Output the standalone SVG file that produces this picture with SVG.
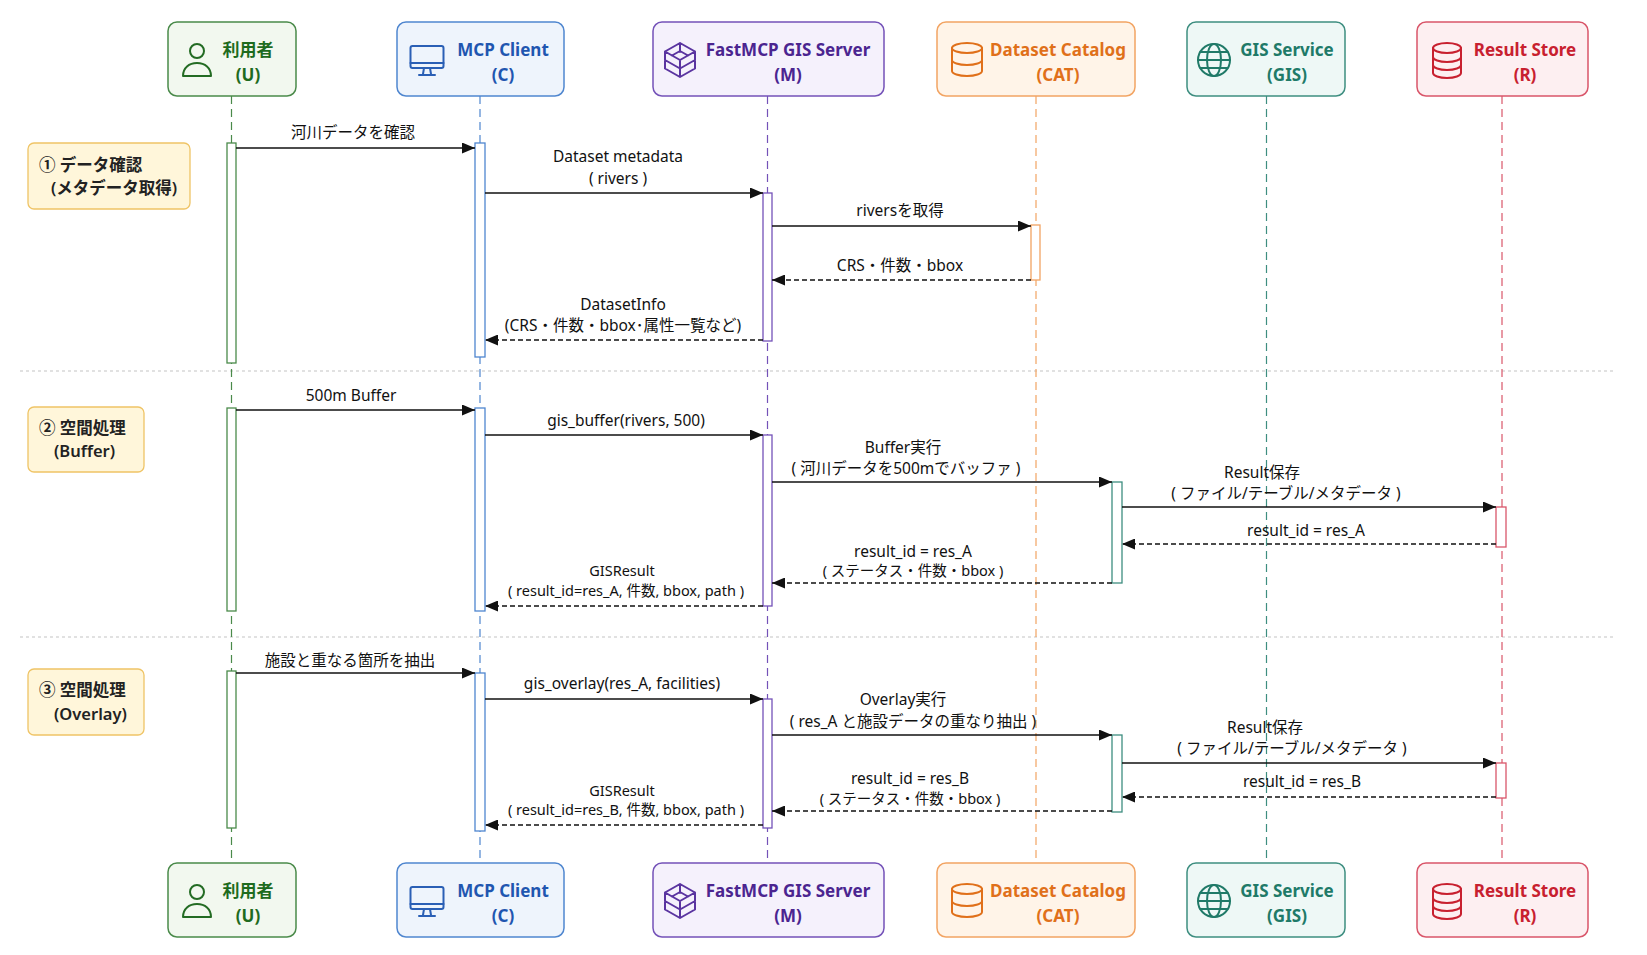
<svg xmlns="http://www.w3.org/2000/svg" xmlns:xlink="http://www.w3.org/1999/xlink" width="1647" height="955" viewBox="0 0 1647 955">
<style>
text{font-family:"Noto Sans","Noto Sans CJK JP",sans-serif;}
.title{font-size:17px;font-weight:700;text-anchor:middle;}
.lbl{font-size:15.5px;fill:#111;text-anchor:middle;}
.sm{font-size:14.5px;fill:#111;text-anchor:middle;}
.sec{font-size:16.5px;font-weight:600;fill:#222;}
.msg{stroke:#111;stroke-width:1.6;fill:none;marker-end:url(#ah);}
.ret{stroke:#111;stroke-width:1.6;fill:none;stroke-dasharray:5 3;marker-end:url(#ah);}
.life{stroke-width:1.2;stroke-dasharray:8 5;fill:none;}
.sep{stroke:#c4c4c4;stroke-width:1.2;stroke-dasharray:3 3;}
.secbox{fill:#fff6da;stroke:#efc466;stroke-width:1.3;}
.ico{fill:none;stroke-width:2;stroke-linecap:round;stroke-linejoin:round;}
.g .box{fill:#f2f8ef;stroke:#4a8a4a;} .g .title{fill:#1e6b1e;} .g .ico{stroke:#236b23;}
.b .box{fill:#eef4fc;stroke:#4f86cf;} .b .title{fill:#1f56b0;} .b .ico{stroke:#2a5fb5;}
.p .box{fill:#f5f1fc;stroke:#7452b8;} .p .title{fill:#4b2590;} .p .ico{stroke:#5a34a0;}
.o .box{fill:#fff4e8;stroke:#f2a463;} .o .title{fill:#e0701a;} .o .ico{stroke:#e0701a;}
.t .box{fill:#eef8f6;stroke:#3e8e80;} .t .title{fill:#207a68;} .t .ico{stroke:#207a68;}
.r .box{fill:#fdeff1;stroke:#d9566a;} .r .title{fill:#c8202f;} .r .ico{stroke:#c8202f;}
.box{stroke-width:1.5;}
.act{fill:#ffffff;stroke-width:1.3;}
</style>
<defs>
<marker id="ah" viewBox="0 0 13 11" refX="13" refY="5.5" markerWidth="13" markerHeight="11" markerUnits="userSpaceOnUse" orient="auto"><path d="M0,0 L13,5.5 L0,11 z" fill="#111"/></marker>
<g id="i-user"><circle cx="0" cy="-9" r="7"/><path d="M-14,16 C-14,8 -8,3 0,3 C8,3 14,8 14,16 Z"/></g>
<g id="i-mon"><rect x="-16.5" y="-14" width="33" height="22" rx="2"/><path d="M-16.5,3 H16.5 M-3,8 L-4,14 M3,8 L4,14 M-8,15 H8"/></g>
<g id="i-cube"><path d="M0,-17 L15,-8.5 L15,8.5 L0,17 L-15,8.5 L-15,-8.5 Z M-15,-8.5 L0,0 L15,-8.5 M0,0 V17 M-15,0 L0,8.5 L15,0 M0,-17 V-8 M-8,-4.5 L0,-9 L8,-4.5"/></g>
<g id="i-db1"><ellipse cx="0" cy="-11" rx="15" ry="5"/><path d="M-15,-11 V12 A15,5 0 0 0 15,12 V-11 M-15,1 A15,5 0 0 0 15,1"/></g>
<g id="i-globe"><circle cx="0" cy="0" r="16"/><ellipse cx="0" cy="0" rx="7" ry="16"/><path d="M-16,0 H16 M-13.5,-8 H13.5 M-13.5,8 H13.5"/></g>
<g id="i-db2"><ellipse cx="0" cy="-12" rx="14" ry="5"/><path d="M-14,-12 V13 A14,5 0 0 0 14,13 V-12 M-14,-3 A14,5 0 0 0 14,-3 M-14,5 A14,5 0 0 0 14,5"/></g>
</defs>
<rect width="1647" height="955" fill="#ffffff"/>

<g id="separators">
<line class="sep" x1="20" y1="371" x2="1615" y2="371"/>
<line class="sep" x1="20" y1="637" x2="1615" y2="637"/>
</g>

<g id="lifelines">
<line class="life" x1="231.5" y1="96" x2="231.5" y2="863" stroke="#4a8a4a"/>
<line class="life" x1="480" y1="96" x2="480" y2="863" stroke="#4f86cf"/>
<line class="life" x1="767.5" y1="96" x2="767.5" y2="863" stroke="#7452b8"/>
<line class="life" x1="1036" y1="96" x2="1036" y2="863" stroke="#f2a463"/>
<line class="life" x1="1266.5" y1="96" x2="1266.5" y2="863" stroke="#3e8e80"/>
<line class="life" x1="1502" y1="96" x2="1502" y2="863" stroke="#d9566a"/>
</g>

<g id="sections">
<rect class="secbox" x="28" y="143" width="162" height="66" rx="6"/>
<text class="sec" x="39" y="171">① データ確認</text>
<text class="sec" x="51" y="194">(メタデータ取得)</text>
<rect class="secbox" x="28" y="407" width="116" height="65" rx="6"/>
<text class="sec" x="39" y="434">② 空間処理</text>
<text class="sec" x="54" y="457">(Buffer)</text>
<rect class="secbox" x="28" y="669" width="116" height="66" rx="6"/>
<text class="sec" x="39" y="696">③ 空間処理</text>
<text class="sec" x="54" y="720">(Overlay)</text>
</g>

<g id="activations">
<rect class="act" x="227" y="143" width="9" height="220" stroke="#4a8a4a"/>
<rect class="act" x="475" y="143" width="10" height="214" stroke="#4f86cf"/>
<rect class="act" x="763" y="193" width="9" height="148" stroke="#7452b8"/>
<rect class="act" x="1031" y="225" width="9" height="55" stroke="#f2a463"/>
<rect class="act" x="227" y="408" width="9" height="203" stroke="#4a8a4a"/>
<rect class="act" x="475" y="408" width="10" height="203" stroke="#4f86cf"/>
<rect class="act" x="763" y="435" width="9" height="171" stroke="#7452b8"/>
<rect class="act" x="1112" y="482" width="10" height="101" stroke="#3e8e80"/>
<rect class="act" x="1496" y="507" width="10" height="40" stroke="#d9566a"/>
<rect class="act" x="227" y="671" width="9" height="157" stroke="#4a8a4a"/>
<rect class="act" x="475" y="673" width="10" height="158" stroke="#4f86cf"/>
<rect class="act" x="763" y="699" width="9" height="129" stroke="#7452b8"/>
<rect class="act" x="1112" y="735" width="10" height="77" stroke="#3e8e80"/>
<rect class="act" x="1496" y="763" width="10" height="35" stroke="#d9566a"/>
</g>

<g id="connectors">
<line class="msg" x1="236" y1="148" x2="475" y2="148"/>
<text class="lbl" x="353" y="138">河川データを確認</text>
<line class="msg" x1="485" y1="193" x2="763" y2="193"/>
<text class="lbl" x="618" y="162">Dataset metadata</text>
<text class="lbl" x="618" y="184">( rivers )</text>
<line class="msg" x1="772" y1="226" x2="1031" y2="226"/>
<text class="lbl" x="900" y="216">riversを取得</text>
<line class="ret" x1="1031" y1="280" x2="772" y2="280"/>
<text class="lbl" x="900" y="271">CRS・件数・bbox</text>
<line class="ret" x1="763" y1="340" x2="485" y2="340"/>
<text class="lbl" x="623" y="310">DatasetInfo</text>
<text class="lbl" x="623" y="331">(CRS・件数・bbox･属性一覧など)</text>

<line class="msg" x1="236" y1="410" x2="475" y2="410"/>
<text class="lbl" x="351" y="401">500m Buffer</text>
<line class="msg" x1="485" y1="435" x2="763" y2="435"/>
<text class="lbl" x="626" y="426">gis_buffer(rivers, 500)</text>
<line class="msg" x1="772" y1="482" x2="1112" y2="482"/>
<text class="lbl" x="903" y="453">Buffer実行</text>
<text class="lbl" x="906" y="474">( 河川データを500mでバッファ )</text>
<line class="msg" x1="1122" y1="507" x2="1496" y2="507"/>
<text class="lbl" x="1262" y="478">Result保存</text>
<text class="lbl" x="1286" y="499">( ファイル/テーブル/メタデータ )</text>
<line class="ret" x1="1496" y1="544" x2="1122" y2="544"/>
<text class="lbl" x="1306" y="536">result_id = res_A</text>
<line class="ret" x1="1112" y1="583" x2="772" y2="583"/>
<text class="lbl" x="913" y="557">result_id = res_A</text>
<text class="sm" x="913" y="576">( ステータス・件数・bbox )</text>
<line class="ret" x1="763" y1="606" x2="485" y2="606"/>
<text class="sm" x="622" y="576">GISResult</text>
<text class="sm" x="626" y="596">( result_id=res_A, 件数, bbox, path )</text>

<line class="msg" x1="236" y1="673" x2="475" y2="673"/>
<text class="lbl" x="350" y="666">施設と重なる箇所を抽出</text>
<line class="msg" x1="485" y1="699" x2="763" y2="699"/>
<text class="lbl" x="622" y="689">gis_overlay(res_A, facilities)</text>
<line class="msg" x1="772" y1="735" x2="1112" y2="735"/>
<text class="lbl" x="903" y="705">Overlay実行</text>
<text class="lbl" x="913" y="727">( res_A と施設データの重なり抽出 )</text>
<line class="msg" x1="1122" y1="763" x2="1496" y2="763"/>
<text class="lbl" x="1265" y="733">Result保存</text>
<text class="lbl" x="1292" y="754">( ファイル/テーブル/メタデータ )</text>
<line class="ret" x1="1496" y1="797" x2="1122" y2="797"/>
<text class="lbl" x="1302" y="787">result_id = res_B</text>
<line class="ret" x1="1112" y1="811" x2="772" y2="811"/>
<text class="lbl" x="910" y="784">result_id = res_B</text>
<text class="sm" x="910" y="804">( ステータス・件数・bbox )</text>
<line class="ret" x1="763" y1="825" x2="485" y2="825"/>
<text class="sm" x="622" y="796">GISResult</text>
<text class="sm" x="626" y="815">( result_id=res_B, 件数, bbox, path )</text>
</g>

<g id="node-U-top" class="g">
<rect class="box" x="168" y="22" width="128" height="74" rx="9"/>
<use class="ico" xlink:href="#i-user" href="#i-user" x="197" y="60"/>
<text class="title" x="248" y="56">利用者</text>
<text class="title" x="248" y="81">(U)</text>
</g>
<g id="node-C-top" class="b">
<rect class="box" x="397" y="22" width="167" height="74" rx="9"/>
<use class="ico" xlink:href="#i-mon" href="#i-mon" x="427" y="60"/>
<text class="title" x="503" y="56">MCP Client</text>
<text class="title" x="503" y="81">(C)</text>
</g>
<g id="node-M-top" class="p">
<rect class="box" x="653" y="22" width="231" height="74" rx="9"/>
<use class="ico" xlink:href="#i-cube" href="#i-cube" x="680" y="60"/>
<text class="title" x="788" y="56">FastMCP GIS Server</text>
<text class="title" x="788" y="81">(M)</text>
</g>
<g id="node-CAT-top" class="o">
<rect class="box" x="937" y="22" width="198" height="74" rx="9"/>
<use class="ico" xlink:href="#i-db1" href="#i-db1" x="967" y="59"/>
<text class="title" x="1058" y="56">Dataset Catalog</text>
<text class="title" x="1058" y="81">(CAT)</text>
</g>
<g id="node-GIS-top" class="t">
<rect class="box" x="1187" y="22" width="158" height="74" rx="9"/>
<use class="ico" xlink:href="#i-globe" href="#i-globe" x="1214" y="60"/>
<text class="title" x="1287" y="56">GIS Service</text>
<text class="title" x="1287" y="81">(GIS)</text>
</g>
<g id="node-R-top" class="r">
<rect class="box" x="1417" y="22" width="171" height="74" rx="9"/>
<use class="ico" xlink:href="#i-db2" href="#i-db2" x="1447" y="60"/>
<text class="title" x="1525" y="56">Result Store</text>
<text class="title" x="1525" y="81">(R)</text>
</g>

<g id="node-U-bottom" class="g">
<rect class="box" x="168" y="863" width="128" height="74" rx="9"/>
<use class="ico" xlink:href="#i-user" href="#i-user" x="197" y="901"/>
<text class="title" x="248" y="897">利用者</text>
<text class="title" x="248" y="922">(U)</text>
</g>
<g id="node-C-bottom" class="b">
<rect class="box" x="397" y="863" width="167" height="74" rx="9"/>
<use class="ico" xlink:href="#i-mon" href="#i-mon" x="427" y="901"/>
<text class="title" x="503" y="897">MCP Client</text>
<text class="title" x="503" y="922">(C)</text>
</g>
<g id="node-M-bottom" class="p">
<rect class="box" x="653" y="863" width="231" height="74" rx="9"/>
<use class="ico" xlink:href="#i-cube" href="#i-cube" x="680" y="901"/>
<text class="title" x="788" y="897">FastMCP GIS Server</text>
<text class="title" x="788" y="922">(M)</text>
</g>
<g id="node-CAT-bottom" class="o">
<rect class="box" x="937" y="863" width="198" height="74" rx="9"/>
<use class="ico" xlink:href="#i-db1" href="#i-db1" x="967" y="900"/>
<text class="title" x="1058" y="897">Dataset Catalog</text>
<text class="title" x="1058" y="922">(CAT)</text>
</g>
<g id="node-GIS-bottom" class="t">
<rect class="box" x="1187" y="863" width="158" height="74" rx="9"/>
<use class="ico" xlink:href="#i-globe" href="#i-globe" x="1214" y="901"/>
<text class="title" x="1287" y="897">GIS Service</text>
<text class="title" x="1287" y="922">(GIS)</text>
</g>
<g id="node-R-bottom" class="r">
<rect class="box" x="1417" y="863" width="171" height="74" rx="9"/>
<use class="ico" xlink:href="#i-db2" href="#i-db2" x="1447" y="901"/>
<text class="title" x="1525" y="897">Result Store</text>
<text class="title" x="1525" y="922">(R)</text>
</g>
</svg>
